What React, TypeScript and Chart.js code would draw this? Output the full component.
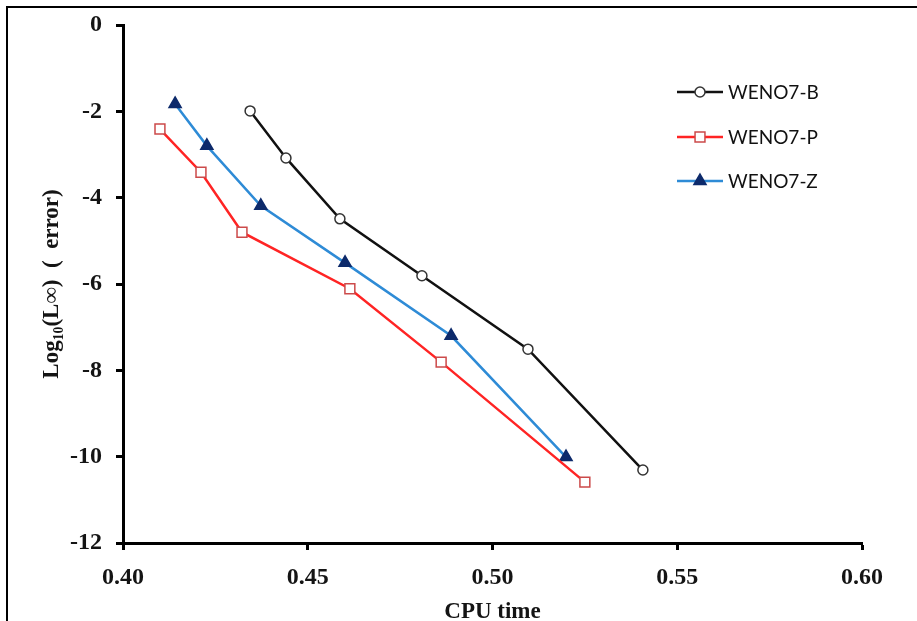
import React, { useEffect, useRef } from "react";
import { Chart, registerables } from "chart.js";

Chart.register(...registerables);

const seriesNames = ["WENO7-B", "WENO7-P", "WENO7-Z"];
const cpuB = [0.4344, 0.4441, 0.4587, 0.4809, 0.5096, 0.5407];
const errB = [-1.99, -3.08, -4.49, -5.81, -7.51, -10.31];
const cpuP = [0.41, 0.4211, 0.4322, 0.4614, 0.4861, 0.525];
const errP = [-2.41, -3.41, -4.8, -6.11, -7.81, -10.59];
const cpuZ = [0.4141, 0.4227, 0.4373, 0.4601, 0.4888, 0.5199];
const errZ = [-1.83, -2.8, -4.19, -5.51, -7.2, -10.01];
const xTickValues = [0.4, 0.45, 0.5, 0.55, 0.6];
const yTickValues = [0, -2, -4, -6, -8, -10, -12];
const xTitle = "CPU time";
const yTitle = "Log\u2081\u2080(L\u221E)  (  error)";

const lineColors = ["#111111", "#ff2424", "#2e8bd6"];
const markerBorders = ["#333333", "#cc4a4a", "#0d2a6b"];
const markerFills = ["#ffffff", "#ffffff", "#0d2a6b"];
const markerStyles = ["circle", "rect", "triangle"];
const markerRadii = [5, 7, 7];

function pts(xs: number[], ys: number[]) {
  return xs.map((x, i) => ({ x, y: ys[i] }));
}

function drawMarker(ctx: CanvasRenderingContext2D, style: string, x: number, y: number, r: number) {
  ctx.beginPath();
  if (style === "circle") {
    ctx.arc(x, y, r, 0, Math.PI * 2);
  } else if (style === "rect") {
    const s = r * Math.SQRT1_2;
    ctx.rect(x - s, y - s, 2 * s, 2 * s);
  } else {
    ctx.moveTo(x, y - r);
    ctx.lineTo(x + r * 0.866, y + r * 0.5);
    ctx.lineTo(x - r * 0.866, y + r * 0.5);
    ctx.closePath();
  }
}

const legendPlugin = {
  id: "customLegend",
  afterDraw(chart: any) {
    const ctx = chart.ctx as CanvasRenderingContext2D;
    const x0 = 669;
    const lineLen = 46;
    const ys = [84, 129, 173];
    ctx.save();
    chart.data.datasets.forEach((ds: any, i: number) => {
      const y = ys[i];
      ctx.strokeStyle = ds.borderColor;
      ctx.lineWidth = 2.5;
      ctx.beginPath();
      ctx.moveTo(x0, y);
      ctx.lineTo(x0 + lineLen, y);
      ctx.stroke();
      drawMarker(ctx, ds.pointStyle, x0 + lineLen / 2, y, ds.pointRadius);
      ctx.fillStyle = ds.pointBackgroundColor;
      ctx.fill();
      ctx.lineWidth = 1.5;
      ctx.strokeStyle = ds.pointBorderColor;
      ctx.stroke();
      ctx.fillStyle = "#111111";
      ctx.font = "19px Lato, 'Liberation Sans', sans-serif";
      ctx.textAlign = "left";
      ctx.textBaseline = "middle";
      ctx.fillText(ds.label, x0 + lineLen + 5, y + 1);
    });
    ctx.restore();
  },
};

export default function App() {
  const ref = useRef<HTMLCanvasElement>(null);
  useEffect(() => {
    if (!ref.current) return;
    const xs = [cpuB, cpuP, cpuZ];
    const ys = [errB, errP, errZ];
    const chart = new Chart(ref.current, {
      type: "line",
      data: {
        datasets: seriesNames.map((name, i) => ({
          label: name,
          data: pts(xs[i], ys[i]),
          borderColor: lineColors[i],
          borderWidth: 2.5,
          pointStyle: markerStyles[i] as any,
          pointRadius: markerRadii[i],
          pointBorderColor: markerBorders[i],
          pointBackgroundColor: markerFills[i],
          pointBorderWidth: 1.5,
          tension: 0,
          fill: false,
        })),
      },
      options: {
        responsive: false,
        animation: false,
        layout: { padding: { top: 17, right: 55, left: 0, bottom: 0 } },
        plugins: { legend: { display: false }, tooltip: { enabled: false } },
        scales: {
          x: {
            type: "linear",
            min: 0.4,
            max: 0.6,
            afterBuildTicks: (s: any) => {
              s.ticks = xTickValues.map((v) => ({ value: v }));
            },
            afterFit: (s: any) => {
              s.height = 78;
              s.paddingLeft = 0;
              s.paddingRight = 0;
            },
            ticks: {
              callback: (v: any) => Number(v).toFixed(2),
              color: "#141414",
              padding: 13,
              font: { family: "'Liberation Serif', serif", weight: "bold", size: 24 },
              maxRotation: 0,
            },
            grid: {
              display: true,
              drawOnChartArea: false,
              drawTicks: true,
              tickLength: 7,
              tickWidth: 3,
              tickColor: "#000",
            },
            border: { display: true, color: "#000", width: 3 },
            title: {
              display: true,
              text: xTitle,
              color: "#141414",
              padding: { top: 0, bottom: 0 },
              font: { family: "'Liberation Serif', serif", weight: "bold", size: 23, lineHeight: 0.8 },
            },
          },
          y: {
            type: "linear",
            min: -12,
            max: 0,
            afterBuildTicks: (s: any) => {
              s.ticks = yTickValues.map((v) => ({ value: v }));
            },
            afterFit: (s: any) => {
              s.width = 115;
              s.paddingTop = 0;
              s.paddingBottom = 0;
            },
            ticks: {
              callback: (v: any) => String(v),
              color: "#141414",
              padding: 14,
              font: { family: "'Liberation Serif', serif", weight: "bold", size: 24 },
            },
            grid: {
              display: true,
              drawOnChartArea: false,
              drawTicks: true,
              tickLength: 7,
              tickWidth: 3,
              tickColor: "#000",
            },
            border: { display: true, color: "#000", width: 3 },
            title: {
              display: true,
              text: yTitle,
              color: "#141414",
              padding: { top: 30, bottom: 0 },
              font: { family: "'Liberation Serif', serif", weight: "bold", size: 23, lineHeight: 1.2 },
            },
          },
        },
      },
      plugins: [legendPlugin],
    });
    return () => chart.destroy();
  }, []);

  return (
    <div
      style={{
        position: "fixed",
        left: 6,
        top: 6,
        right: 0,
        bottom: 0,
        borderTop: "2px solid #000",
        borderLeft: "2px solid #000",
        background: "#fff",
        overflow: "hidden",
      }}
    >
      <canvas ref={ref} width={909} height={613} style={{ display: "block" }} />
    </div>
  );
}
